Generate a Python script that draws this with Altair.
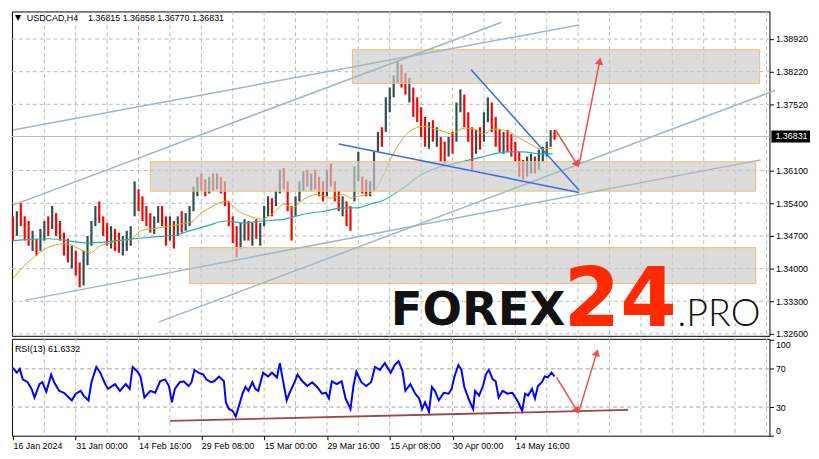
import altair as alt
import pandas as pd

# ---------------- data ----------------
header_symbol = "USDCAD,H4"
header_ohlc = "1.36815 1.36858 1.36770 1.36831"
last_price = 1.36831
rsi_title = "RSI(13) 61.6332"

time_labels = ["16 Jan 2024", "31 Jan 00:00", "14 Feb 16:00", "29 Feb 08:00",
               "15 Mar 00:00", "29 Mar 16:00", "15 Apr 08:00", "30 Apr 00:00", "14 May 16:00"]
time_label_bars = [0, 64, 128, 192, 256, 320, 384, 448, 512]
price_ticks = [1.3892, 1.3822, 1.3752, 1.3610, 1.3540, 1.3470, 1.3400, 1.3330, 1.3260]
rsi_ticks = [0, 30, 70, 100]
rsi_levels = [30, 70]

# H4 candles, one column every 4 bars (high / low / direction)
candle_step = 4
candle_high = [
    1.3512, 1.3523, 1.3540, 1.3512, 1.3502, 1.3481, 1.3464, 1.3485, 1.3502, 1.3512,
    1.3534, 1.3519, 1.3502, 1.3477, 1.3464, 1.3449, 1.3438, 1.3413, 1.3438, 1.3470,
    1.3502, 1.3534, 1.3544, 1.3512, 1.3498, 1.3491, 1.3485, 1.3477, 1.3470, 1.3481,
    1.3491, 1.3587, 1.3570, 1.3555, 1.3534, 1.3519, 1.3512, 1.3534, 1.3534, 1.3512,
    1.3512, 1.3502, 1.3512, 1.3523, 1.3519, 1.3534, 1.3576, 1.3597, 1.3604, 1.3591,
    1.3597, 1.3604, 1.3604, 1.3597, 1.3587, 1.3544, 1.3512, 1.3491, 1.3498, 1.3506,
    1.3502, 1.3498, 1.3506, 1.3498, 1.3534, 1.3555, 1.3551, 1.3566, 1.3612, 1.3616,
    1.3587, 1.3534, 1.3555, 1.3587, 1.3608, 1.3612, 1.3604, 1.3612, 1.3597, 1.3587,
    1.3612, 1.3625, 1.3587, 1.3566, 1.3555, 1.3544, 1.3534, 1.3619, 1.3650, 1.3597,
    1.3591, 1.3587, 1.3650, 1.3693, 1.3703, 1.3767, 1.3788, 1.3814, 1.3845, 1.3837,
    1.3820, 1.3809, 1.3788, 1.3767, 1.3746, 1.3725, 1.3714, 1.3718, 1.3703, 1.3682,
    1.3672, 1.3682, 1.3693, 1.3756, 1.3784, 1.3773, 1.3735, 1.3703, 1.3697, 1.3703,
    1.3735, 1.3767, 1.3756, 1.3725, 1.3697, 1.3693, 1.3697, 1.3688, 1.3672, 1.3650,
    1.3633, 1.3640, 1.3646, 1.3640, 1.3655, 1.3661, 1.3672, 1.3697, 1.3697]
candle_low = [
    1.3460, 1.3470, 1.3491, 1.3460, 1.3449, 1.3438, 1.3428, 1.3438, 1.3460, 1.3470,
    1.3485, 1.3470, 1.3460, 1.3428, 1.3413, 1.3400, 1.3385, 1.3360, 1.3364, 1.3407,
    1.3449, 1.3491, 1.3498, 1.3470, 1.3449, 1.3443, 1.3438, 1.3434, 1.3428, 1.3438,
    1.3449, 1.3512, 1.3523, 1.3502, 1.3491, 1.3477, 1.3474, 1.3498, 1.3491, 1.3449,
    1.3460, 1.3443, 1.3470, 1.3477, 1.3481, 1.3491, 1.3523, 1.3555, 1.3566, 1.3555,
    1.3561, 1.3566, 1.3570, 1.3561, 1.3534, 1.3491, 1.3455, 1.3424, 1.3443, 1.3460,
    1.3460, 1.3449, 1.3464, 1.3449, 1.3491, 1.3512, 1.3512, 1.3534, 1.3561, 1.3570,
    1.3523, 1.3460, 1.3512, 1.3544, 1.3566, 1.3576, 1.3566, 1.3570, 1.3555, 1.3544,
    1.3555, 1.3576, 1.3544, 1.3523, 1.3512, 1.3491, 1.3481, 1.3544, 1.3587, 1.3561,
    1.3555, 1.3555, 1.3566, 1.3650, 1.3661, 1.3693, 1.3735, 1.3767, 1.3799, 1.3788,
    1.3773, 1.3756, 1.3725, 1.3714, 1.3682, 1.3661, 1.3657, 1.3672, 1.3661, 1.3629,
    1.3625, 1.3640, 1.3646, 1.3672, 1.3735, 1.3703, 1.3672, 1.3612, 1.3646, 1.3655,
    1.3672, 1.3714, 1.3693, 1.3661, 1.3650, 1.3646, 1.3650, 1.3640, 1.3629, 1.3597,
    1.3591, 1.3597, 1.3604, 1.3604, 1.3612, 1.3629, 1.3640, 1.3661, 1.3676]
candle_dir = list(
    "duddduduud" "uddddudduu" "uudddudduu" "uudddduudd" "ududuuuudd"
    "ududdddduu" "duduuuduud" "dduuududdd" "udddudduud" "duuuduuuud"
    "duddddudud" "duduudddud" "uudddudddd" "duuduuuud")

# moving averages (bar index, price)
ma_fast_bar = [0, 12, 22, 40, 52, 60, 67, 79, 89, 100, 107, 120, 130, 147, 160, 172, 182, 192, 202, 217,
               230, 242, 254, 264, 277, 284, 297, 310, 324, 337, 344, 352, 364, 370, 377, 387, 397, 410, 420, 430,
               437, 447, 460, 470, 480, 490, 504, 514, 527, 537, 550]
ma_fast = [1.3379, 1.3407, 1.3426, 1.3449, 1.3453, 1.3451, 1.3443, 1.3434, 1.3449, 1.3455,
           1.3460, 1.3462, 1.3481, 1.3487, 1.3491, 1.3496, 1.3500, 1.3519, 1.3532, 1.3544,
           1.3523, 1.3512, 1.3506, 1.3517, 1.3538, 1.3530, 1.3549, 1.3559, 1.3551, 1.3559,
           1.3551, 1.3555, 1.3561, 1.3572, 1.3597, 1.3644, 1.3678, 1.3701, 1.3705, 1.3699,
           1.3695, 1.3689, 1.3701, 1.3699, 1.3689, 1.3699, 1.3695, 1.3682, 1.3667, 1.3657, 1.3657]
ma_slow_bar = [0, 37, 77, 124, 144, 167, 177, 197, 217, 234, 254, 277, 297, 317, 337, 350, 364, 377,
               397, 417, 437, 450, 470, 487, 504, 520, 537, 550]
ma_slow = [1.3460, 1.3464, 1.3455, 1.3464, 1.3468, 1.3472, 1.3479, 1.3491, 1.3502, 1.3498,
           1.3502, 1.3506, 1.3517, 1.3523, 1.3530, 1.3530, 1.3538, 1.3546, 1.3572, 1.3602,
           1.3619, 1.3625, 1.3635, 1.3644, 1.3650, 1.3650, 1.3646, 1.3646]

# zones (bar from, bar to, top price, bottom price)
zone_x1 = [346, 140, 180]
zone_x2 = [761, 757, 757]
zone_top = [1.3869, 1.3629, 1.3445]
zone_bottom = [1.3797, 1.3566, 1.3368]

# channel lines (grey)
chan_x1 = [0, 0, 12, 149]
chan_y1 = [1.3697, 1.3536, 1.3332, 1.3286]
chan_x2 = [577, 498, 762, 777]
chan_y2 = [1.3922, 1.3928, 1.3633, 1.3782]

# wedge lines (blue)
wedge_x1 = [332, 467]
wedge_y1 = [1.3667, 1.3826]
wedge_x2 = [577, 577]
wedge_y2 = [1.3563, 1.3568]

# forecast arrows on price
arrow_x1 = [553, 577]
arrow_y1 = [1.3697, 1.3623]
arrow_x2 = [575, 598]
arrow_y2 = [1.3623, 1.3845]
arrow_angle = [148, 11]

# RSI(13)
rsi_points = [(0, 71), (4, 66), (7, 70), (10, 59), (15, 56), (19, 49), (22, 40), (27, 54), (30, 56), (34, 46),
              (39, 64), (42, 56), (47, 47), (52, 45), (57, 40), (60, 37), (64, 44), (69, 47), (72, 42), (77, 37),
              (80, 56), (85, 72), (89, 66), (94, 54), (97, 49), (104, 54), (109, 47), (115, 54), (119, 49), (122, 72),
              (127, 67), (130, 62), (134, 40), (140, 47), (145, 45), (150, 57), (155, 59), (159, 52), (162, 35), (165, 49),
              (170, 56), (174, 57), (179, 52), (182, 56), (185, 69), (189, 66), (194, 64), (197, 59), (202, 56), (205, 57),
              (210, 62), (215, 57), (217, 35), (220, 28), (224, 26), (227, 20), (230, 30), (234, 44), (237, 51), (240, 47),
              (244, 56), (247, 49), (250, 47), (255, 66), (260, 62), (264, 66), (269, 61), (272, 76), (275, 59), (279, 37),
              (282, 45), (287, 56), (290, 64), (295, 57), (300, 52), (305, 56), (310, 51), (315, 44), (319, 45), (322, 39),
              (325, 57), (330, 54), (335, 57), (339, 39), (344, 28), (347, 52), (350, 67), (355, 56), (360, 52), (365, 56),
              (369, 72), (374, 69), (379, 76), (385, 66), (389, 74), (393, 78), (397, 68), (400, 47), (405, 54), (410, 44),
              (414, 39), (417, 28), (420, 35), (424, 25), (427, 51), (430, 47), (434, 37), (439, 45), (444, 44), (447, 49),
              (450, 62), (454, 74), (457, 69), (460, 51), (465, 37), (469, 28), (471, 47), (475, 42), (479, 52), (482, 64),
              (485, 69), (489, 59), (492, 57), (495, 40), (499, 47), (504, 44), (509, 45), (512, 40), (515, 35), (519, 26),
              (522, 44), (525, 42), (529, 49), (532, 39), (535, 52), (539, 56), (542, 62), (545, 61), (549, 66), (552, 62)]
rsi_support_x = [160, 627]
rsi_support_y = [15.5, 27.0]
rsi_arrow_x1 = [554, 577]
rsi_arrow_y1 = [61, 26]
rsi_arrow_x2 = [575, 595]
rsi_arrow_y2 = [26, 87]
rsi_arrow_angle = [147, 17]

# ---------------- styling ----------------
W, H_PRICE, H_RSI = 766, 328, 98
FONT = "Liberation Sans"
BULL, BEAR = "#2F4F4F", "#FF0000"
ARROW = "#F24B4B"
GRID = "#BCBCBC"

x_scale = alt.Scale(domain=[-1, 771], nice=False, zero=False)
p_scale = alt.Scale(domain=[1.3256, 1.3951], nice=False, zero=False)
r_scale = alt.Scale(domain=[0, 101.5], nice=False, zero=False)

grid_bars = list(range(32, 771, 32))
label_expr = " : ".join(f"datum.value == {b} ? '{t}'" for b, t in zip(time_label_bars, time_labels)) + " : ''"

ax_price_x = alt.Axis(values=grid_bars, grid=False, labels=False, ticks=False, domain=False, title=None)
ax_price_y = alt.Axis(orient="right", values=price_ticks, format=".5f", grid=False, tickSize=4,
                      labelPadding=2, domain=False, title=None, labelOverlap=False)
ax_rsi_x = alt.Axis(values=time_label_bars, grid=False, labelExpr=label_expr,
                    labelAlign="left", labelBaseline="top", labelPadding=2, tickSize=4,
                    labelOverlap=False, domain=False, title=None)
ax_rsi_y = alt.Axis(orient="right", values=rsi_ticks, grid=False, tickSize=4, labelPadding=2,
                    labelBaseline={"condition": [{"test": "datum.value == 100", "value": "top"},
                                                 {"test": "datum.value == 0", "value": "bottom"}],
                                   "value": "middle"},
                    domain=False, title=None, labelOverlap=False)


def PX(f):
    return alt.X(f, scale=x_scale, axis=ax_price_x)


def PY(f):
    return alt.Y(f, scale=p_scale, axis=ax_price_y)


def RX(f):
    return alt.X(f, scale=x_scale, axis=ax_rsi_x)


def RY(f):
    return alt.Y(f, scale=r_scale, axis=ax_rsi_y)


# ---------------- price panel ----------------
bid = alt.Chart(pd.DataFrame({"p": [last_price]})).mark_rule(color="#BDBDBD", strokeWidth=1).encode(
    y=PY("p:Q"))
vgrid_p = alt.Chart(pd.DataFrame({"gx": grid_bars})).mark_rule(
    color=GRID, strokeWidth=1, strokeDash=[4, 3]).encode(
    x=PX("gx:Q"), y=alt.value(0), y2=alt.value(H_PRICE))
hgrid_p = alt.Chart(pd.DataFrame({"gy": price_ticks})).mark_rule(
    color=GRID, strokeWidth=1, strokeDash=[4, 3]).encode(
    y=PY("gy:Q"), x=alt.value(0), x2=alt.value(W))

candle_df = pd.DataFrame({"bar": [i * candle_step for i in range(len(candle_high))],
                          "hi": candle_high, "lo": candle_low, "dir": candle_dir})
candles = alt.Chart(candle_df).mark_rule(strokeWidth=2.2).encode(
    x=PX("bar:Q"), y=PY("lo:Q"), y2="hi:Q",
    color=alt.Color("dir:N", scale=alt.Scale(domain=["u", "d"], range=[BULL, BEAR]), legend=None),
)

fast = alt.Chart(pd.DataFrame({"bar": ma_fast_bar, "p": ma_fast})).mark_line(
    color="#DAA520", strokeWidth=1, interpolate="monotone").encode(x=PX("bar:Q"), y=PY("p:Q"))
slow = alt.Chart(pd.DataFrame({"bar": ma_slow_bar, "p": ma_slow})).mark_line(
    color="#20B2AA", strokeWidth=1.2, interpolate="monotone").encode(x=PX("bar:Q"), y=PY("p:Q"))

zones = alt.Chart(pd.DataFrame({"x1": zone_x1, "x2": zone_x2, "t": zone_top, "b": zone_bottom})).mark_rect(
    fill="#CCCCCC", fillOpacity=0.68, stroke="#F0BE72", strokeWidth=1, strokeOpacity=1).encode(
    x=PX("x1:Q"), x2="x2:Q", y=PY("t:Q"), y2="b:Q")


def segs(x1, y1, x2, y2, color, width, xe, ye):
    df = pd.DataFrame({"x1": x1, "y1": y1, "x2": x2, "y2": y2})
    return alt.Chart(df).mark_rule(color=color, strokeWidth=width).encode(
        x=xe("x1:Q"), x2="x2:Q", y=ye("y1:Q"), y2="y2:Q")


def heads(x, y, ang, xe, ye):
    df = pd.DataFrame({"x": x, "y": y, "a": ang})
    return alt.Chart(df).mark_point(shape="triangle-up", filled=True, size=70, color=ARROW, opacity=1).encode(
        x=xe("x:Q"), y=ye("y:Q"), angle=alt.Angle("a:Q", scale=None))


channels = segs(chan_x1, chan_y1, chan_x2, chan_y2, "#A3B6C4", 1.5, PX, PY)
wedge = segs(wedge_x1, wedge_y1, wedge_x2, wedge_y2, "#3A6AE6", 1.5, PX, PY)
arrows = segs(arrow_x1, arrow_y1, arrow_x2, arrow_y2, ARROW, 1.5, PX, PY)
arrow_heads = heads(arrow_x2, arrow_y2, arrow_angle, PX, PY)

price_box = alt.Chart(pd.DataFrame({"p": [last_price]})).mark_rect(
    color="black", yOffset=-6, y2Offset=6).encode(
    x=alt.value(W + 2), x2=alt.value(W + 41), y=PY("p:Q"), y2="p:Q")
price_txt = alt.Chart(pd.DataFrame({"p": [last_price], "t": [f"{last_price:.5f}"]})).mark_text(
    color="white", font=FONT, fontSize=9, align="left", baseline="middle").encode(
    x=alt.value(W + 6), y=PY("p:Q"), text="t:N")


def label(txt, x, y, **kw):
    return alt.Chart(pd.DataFrame({"t": [txt]})).mark_text(align="left", **kw).encode(
        x=alt.value(x), y=alt.value(y), text="t:N")


hdr_tri = label("▼", 3, 7, font="DejaVu Sans", fontSize=8, baseline="middle", color="black")
hdr_sym = label(header_symbol, 15, 7, font=FONT, fontSize=9, baseline="middle", color="black")
hdr_ohlc = label(header_ohlc, 77, 7, font=FONT, fontSize=9, baseline="middle", color="black")

wm1 = label("FOREX", 383, 317, font="DejaVu Sans", fontSize=47, fontWeight=900, baseline="alphabetic",
            color="#111111")
wm2 = label("24", 558, 318, font="DejaVu Sans", fontSize=82, fontWeight=900, baseline="alphabetic",
            color="#FF2A00")
wm3 = label(".PRO", 673, 318, font="Lato", fontSize=38, fontWeight=300, baseline="alphabetic",
            color="#111111")

price_chart = alt.layer(
    bid, vgrid_p, hgrid_p, candles, fast, slow, zones, channels, wedge, arrows, arrow_heads,
    price_box, price_txt, hdr_tri, hdr_sym, hdr_ohlc, wm1, wm2, wm3,
).properties(width=W, height=H_PRICE)

# ---------------- RSI panel ----------------
levels = alt.Chart(pd.DataFrame({"v": rsi_levels})).mark_rule(
    color="#A0A0A0", strokeWidth=1, strokeDash=[4, 3]).encode(y=RY("v:Q"))
vgrid_r = alt.Chart(pd.DataFrame({"gx": grid_bars})).mark_rule(
    color=GRID, strokeWidth=1, strokeDash=[4, 3]).encode(
    x=RX("gx:Q"), y=alt.value(0), y2=alt.value(H_RSI))
rsi_df = pd.DataFrame({"bar": [b for b, _ in rsi_points], "v": [v for _, v in rsi_points]})
rsi_line = alt.Chart(rsi_df).mark_line(color="#0000FF", strokeWidth=2).encode(x=RX("bar:Q"), y=RY("v:Q"))
support = segs(rsi_support_x[:1], rsi_support_y[:1], rsi_support_x[1:], rsi_support_y[1:], "#9A4848", 1.8, RX, RY)
rsi_arrows = segs(rsi_arrow_x1, rsi_arrow_y1, rsi_arrow_x2, rsi_arrow_y2, ARROW, 1.5, RX, RY)
rsi_heads = heads(rsi_arrow_x2, rsi_arrow_y2, rsi_arrow_angle, RX, RY)
rsi_hdr = label(rsi_title, 3, 10, font=FONT, fontSize=9, baseline="middle", color="black")

rsi_chart = alt.layer(levels, vgrid_r, rsi_line, support, rsi_arrows, rsi_heads, rsi_hdr).properties(
    width=W, height=H_RSI)

chart = alt.vconcat(price_chart, rsi_chart, spacing=3, bounds="flush").properties(
    padding={"left": 0, "top": 0, "right": 0, "bottom": 0}, background="white",
).configure_view(stroke="black", strokeWidth=1).configure_axis(
    labelFont=FONT, labelFontSize=9, labelColor="black", tickColor="black", tickWidth=1,
)

chart.save("out.html", embed_options={"renderer": "svg", "actions": False})
